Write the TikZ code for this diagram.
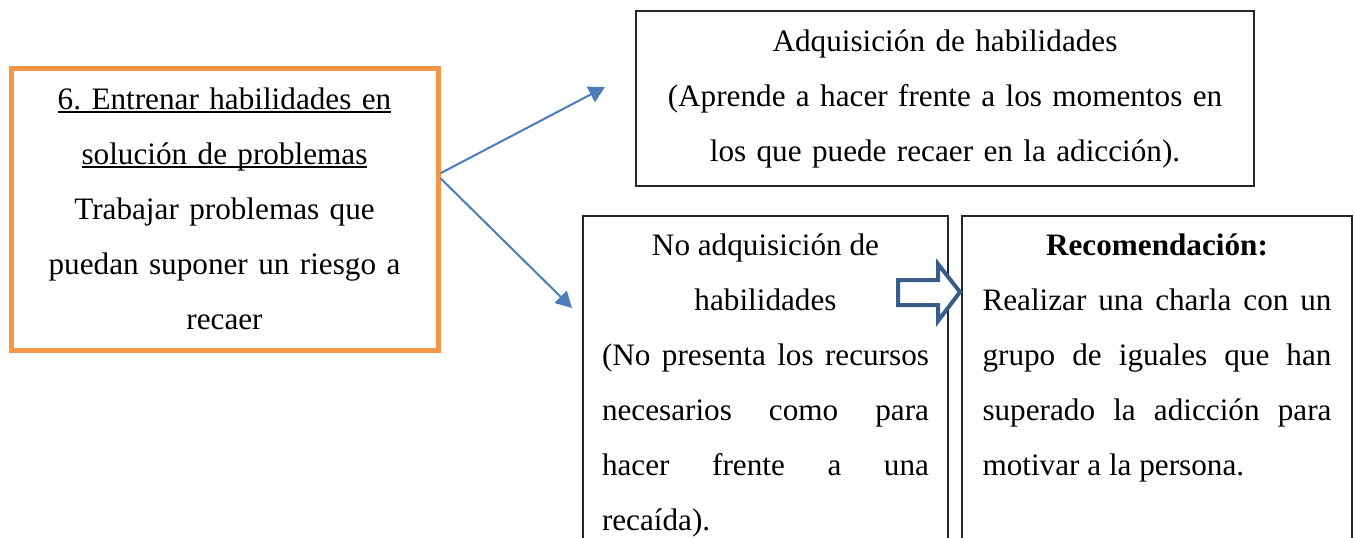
\documentclass[tikz,border=0pt]{standalone}
\usepackage{fontspec}
\setmainfont{Liberation Serif}
\usetikzlibrary{arrows.meta}
\definecolor{orangeln}{HTML}{F79646}
\definecolor{blueln}{HTML}{4A7EBB}
\definecolor{darkblue}{HTML}{385D8A}
\setlength\parindent{0pt}
\frenchspacing
\tolerance=10000 \hbadness=10000
\newcommand\ulline[1]{\leavevmode\setbox0\hbox{#1}\rlap{\rule[-1.4pt]{\wd0}{0.9pt}}\box0}
\begin{document}
\begin{tikzpicture}[x=0.5pt,y=-0.5pt,
    txt/.style={font=\fontsize{15.6pt}{27.5pt}\selectfont},
    frame/.style={txt,draw=black!85,line width=0.75pt,inner ysep=9pt},
    orangebox/.style={txt,draw=orangeln,line width=2.5pt,inner sep=0pt,align=center},
    link/.style={draw=blueln,line width=1pt,-{Triangle[length=8pt,width=8.5pt]}},
    bigarrow/.style={draw=darkblue,line width=2pt,fill=white,line join=miter}]
  \clip (0,0) rectangle (1355,537);
  \node[orangebox,text width=200pt,minimum width=213.5pt,minimum height=141.25pt] (prob) at (224.5,209.25)
    {\ulline{6. Entrenar habilidades en}\\\ulline{solución de problemas}\\Trabajar problemas que\\puedan suponer un riesgo a\\recaer};
  \node[frame,inner sep=0pt,align=center,text width=290pt,minimum width=309pt,minimum height=87.5pt] (acq) at (945,98.5)
    {Adquisición de habilidades\\(Aprende a hacer frente a los momentos en\\los que puede recaer en la adicción).};
  \node[frame,anchor=north,align=justify,text width=163.5pt,inner xsep=9.5pt] (noacq) at (765.5,215)
    {{\centering No adquisición de\\habilidades\par}
     (No presenta los recursos\linebreak necesarios como para\linebreak hacer frente a una\linebreak recaída).};
  \node[frame,anchor=north,align=justify,text width=174.5pt,inner xsep=10.25pt] (recom) at (1157,215)
    {{\centering\bfseries Recomendación:\par}
     Realizar una charla con un\linebreak grupo de iguales que han\linebreak superado la adicción para\linebreak motivar a la persona.\par\mbox{}};
  \coordinate (t1) at (605,87);
  \coordinate (t2) at (572,308);
  \draw[link] ([yshift=18pt]prob.east) -- (t1);
  \draw[link] ([yshift=15.5pt]prob.east) -- (t2);
  \draw[bigarrow] (898,280) -- (938,280) -- (938,264) -- (960,292) -- (938,321) -- (938,305) -- (898,305) -- cycle;
\end{tikzpicture}
\end{document}
